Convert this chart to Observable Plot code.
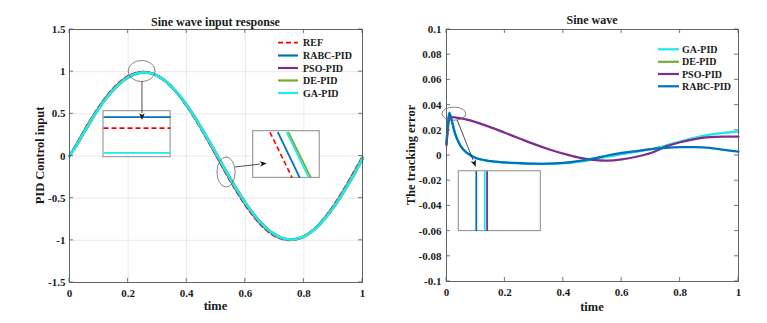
<!DOCTYPE html>
<html><head><meta charset="utf-8">
<script src="https://cdn.jsdelivr.net/npm/d3@7"></script>
<script src="https://cdn.jsdelivr.net/npm/@observablehq/plot@0.6"></script>
<style>
html,body{margin:0;padding:0;background:#fff;}
#wrap{position:relative;width:767px;height:323px;overflow:hidden;background:#fff;}
#left,#right{position:absolute;top:0;}
#left{left:0;} #right{left:380px;}
</style></head><body>
<div id="wrap"><div id="left"></div><div id="right"></div></div>
<script>
// ---------- Left chart data: PID control input (sine tracking) ----------
const timeA = [0,0.025,0.05,0.075,0.1,0.125,0.15,0.175,0.2,0.225,0.25,0.275,0.3,0.325,0.35,0.375,0.4,0.425,0.45,0.475,0.5,0.525,0.55,0.575,0.6,0.625,0.65,0.675,0.7,0.725,0.75,0.775,0.8,0.825,0.85,0.875,0.9,0.925,0.95,0.975,1];
const refA  = [0,0.156,0.309,0.454,0.588,0.707,0.809,0.891,0.951,0.988,1,0.988,0.951,0.891,0.809,0.707,0.588,0.454,0.309,0.156,0,-0.156,-0.309,-0.454,-0.588,-0.707,-0.809,-0.891,-0.951,-0.988,-1,-0.988,-0.951,-0.891,-0.809,-0.707,-0.588,-0.454,-0.309,-0.156,0];
const rabcA = [0,0.140,0.292,0.436,0.571,0.690,0.793,0.876,0.939,0.978,0.996,0.986,0.952,0.894,0.815,0.715,0.598,0.467,0.325,0.175,0.022,-0.134,-0.286,-0.430,-0.565,-0.685,-0.789,-0.873,-0.936,-0.977,-0.993,-0.985,-0.953,-0.897,-0.820,-0.722,-0.605,-0.475,-0.332,-0.183,-0.018];
const psoA  = [0,0.132,0.283,0.427,0.562,0.681,0.785,0.869,0.932,0.972,0.990,0.983,0.951,0.896,0.818,0.720,0.605,0.475,0.334,0.185,0.033,-0.122,-0.274,-0.418,-0.553,-0.674,-0.779,-0.864,-0.929,-0.971,-0.990,-0.985,-0.955,-0.901,-0.825,-0.729,-0.614,-0.486,-0.344,-0.196,-0.030];
const deA   = [0,0.132,0.283,0.427,0.562,0.681,0.785,0.869,0.932,0.972,0.990,0.983,0.951,0.896,0.818,0.720,0.605,0.475,0.334,0.185,0.033,-0.122,-0.274,-0.418,-0.553,-0.674,-0.779,-0.864,-0.929,-0.971,-0.990,-0.985,-0.955,-0.901,-0.825,-0.729,-0.614,-0.486,-0.344,-0.196,-0.030];
const gaA   = [0,0.133,0.284,0.428,0.563,0.682,0.786,0.870,0.933,0.973,0.990,0.982,0.950,0.895,0.817,0.719,0.603,0.473,0.332,0.183,0.031,-0.124,-0.276,-0.420,-0.555,-0.676,-0.780,-0.865,-0.930,-0.972,-0.990,-0.984,-0.954,-0.900,-0.824,-0.728,-0.612,-0.484,-0.342,-0.194,-0.025];
const leftSeriesNames = ["REF","RABC-PID","PSO-PID","DE-PID","GA-PID"];
const leftSeriesValues = [refA, rabcA, psoA, deA, gaA];
const xTicks = [0,0.2,0.4,0.6,0.8,1];
const yTicksA = [-1.5,-1,-0.5,0,0.5,1,1.5];

// left zoom insets (data units)
const insetBoxesA = [{x1:0.116,x2:0.345,y1:-0.014,y2:0.531},{x1:0.627,x2:0.854,y1:-0.259,y2:0.294}];
const insetLinesA = [
  {s:"RABC-PID",x1:0.116,y1:0.460,x2:0.345,y2:0.460},
  {s:"REF",x1:0.116,y1:0.330,x2:0.345,y2:0.330},
  {s:"GA-PID",x1:0.116,y1:0.038,x2:0.345,y2:0.038},
  {s:"REF",x1:0.684,y1:0.282,x2:0.760,y2:-0.259},
  {s:"RABC-PID",x1:0.711,y1:0.282,x2:0.786,y2:-0.259},
  {s:"GA-PID",x1:0.741,y1:0.282,x2:0.817,y2:-0.259},
  {s:"DE-PID",x1:0.747,y1:0.282,x2:0.824,y2:-0.259}
];
const ellipsesA = [{x:0.248,y:1.002,rx:0.046,ry:0.125},{x:0.536,y:-0.196,rx:0.031,ry:0.178}];
const arrowsA = [{x1:0.249,y1:0.883,x2:0.249,y2:0.421},{x1:0.567,y1:-0.136,x2:0.675,y2:-0.092}];

// ---------- Right chart data: tracking error ----------
const timeB = [0,0.005,0.01,0.02,0.03,0.05,0.07,0.1,0.15,0.2,0.25,0.3,0.35,0.4,0.45,0.5,0.55,0.6,0.65,0.7,0.75,0.8,0.85,0.9,0.95,1];
const gaB   = [0.009,0.024,0.033,0.026,0.017,0.007,0.002,-0.002,-0.0045,-0.0056,-0.0062,-0.0066,-0.0066,-0.006,-0.005,-0.0033,-0.001,0.001,0.003,0.005,0.0078,0.011,0.014,0.0165,0.018,0.019];
const deB   = [0.009,0.024,0.033,0.026,0.017,0.007,0.002,-0.002,-0.0045,-0.0056,-0.0062,-0.0066,-0.0066,-0.006,-0.005,-0.0033,-0.001,0.001,0.003,0.005,0.0078,0.011,0.014,0.0165,0.018,0.019];
const psoB  = [0.008,0.022,0.029,0.0305,0.0302,0.0295,0.0285,0.0265,0.0225,0.018,0.0135,0.009,0.005,0.0015,-0.0015,-0.0035,-0.004,-0.003,-0.001,0.002,0.007,0.0105,0.013,0.0145,0.015,0.015];
const rabcB = [0.010,0.025,0.034,0.026,0.017,0.007,0.002,-0.002,-0.0045,-0.0055,-0.006,-0.0065,-0.0065,-0.0058,-0.0045,-0.0025,0.0,0.002,0.0035,0.005,0.006,0.0066,0.0066,0.006,0.0045,0.003];
const rightSeriesNames = ["GA-PID","DE-PID","PSO-PID","RABC-PID"];
const rightSeriesValues = [gaB, deB, psoB, rabcB];
const rightDrawOrder = ["DE-PID","GA-PID","PSO-PID","RABC-PID"];
const yTicksB = [-0.1,-0.08,-0.06,-0.04,-0.02,0,0.02,0.04,0.06,0.08,0.1];

const insetBoxesB = [{x1:0.042,x2:0.323,y1:-0.060,y2:-0.0125}];
const insetLinesB = [
  {s:"RABC-PID",x1:0.102,y1:-0.0125,x2:0.102,y2:-0.060},
  {s:"GA-PID",x1:0.131,y1:-0.0125,x2:0.131,y2:-0.060},
  {s:"PSO-PID",x1:0.139,y1:-0.0125,x2:0.139,y2:-0.060}
];
const ellipsesB = [{x:0.027,y:0.0328,rx:0.041,ry:0.0052}];
const arrowsB = [{x1:0.038,y1:0.0278,x2:0.102,y2:-0.0093}];

// ---------- styles ----------
const FONT = "'Liberation Serif','Times New Roman',Times,serif";
const STYLE = {
  "REF":      {stroke:"#FF0000", width:1.6, dash:"5,3"},
  "RABC-PID": {stroke:"#0072BD", width:2.5},
  "PSO-PID":  {stroke:"#7E2F8E", width:2.5},
  "DE-PID":   {stroke:"#77AC30", width:2.5},
  "GA-PID":   {stroke:"#1EEAEA", width:2.5}
};
const AXIS = "#555";

function seriesMarks(names, values, time, order, curve, widthScale, thin = []) {
  return order.map(n => {
    const i = names.indexOf(n);
    const rows = time.map((t, j) => ({t, v: values[i][j]}));
    const st = STYLE[n];
    let w = st.dash ? st.width : st.width * widthScale;
    if (thin.includes(n)) w *= 0.7;
    return Plot.line(rows, {x:"t", y:"v", stroke: st.stroke, strokeWidth: w,
      strokeDasharray: st.dash || null, curve});
  });
}
function insetMarks(boxes, lines) {
  const m = [Plot.rect(boxes, {x1:"x1", x2:"x2", y1:"y1", y2:"y2", fill:"white", stroke:"#8a8a8a", strokeWidth:1})];
  for (const name of Object.keys(STYLE)) {
    const sub = lines.filter(d => d.s === name);
    if (!sub.length) continue;
    const st = STYLE[name];
    m.push(Plot.link(sub, {x1:"x1", y1:"y1", x2:"x2", y2:"y2", stroke: st.stroke,
      strokeWidth: name === "REF" ? 1.6 : 1.8, strokeDasharray: st.dash || null}));
  }
  return m;
}

function decorate(svg, cfg) {
  const xs = svg.scale("x"), ys = svg.scale("y");
  const s = d3.select(svg);
  const [xa, xb] = d3.extent(xs.range), [ya, yb] = d3.extent(ys.range);
  const g = s.append("g").attr("stroke", AXIS).attr("stroke-width", 0.8);
  for (const t of cfg.xTicks) {
    const px = xs.apply(t);
    g.append("line").attr("x1", px).attr("x2", px).attr("y1", yb).attr("y2", yb - 4);
    g.append("line").attr("x1", px).attr("x2", px).attr("y1", ya).attr("y2", ya + 4);
  }
  for (const t of cfg.yTicks) {
    const py = ys.apply(t);
    g.append("line").attr("x1", xa).attr("x2", xa + 4).attr("y1", py).attr("y2", py);
    g.append("line").attr("x1", xb).attr("x2", xb - 4).attr("y1", py).attr("y2", py);
  }
  for (const e of cfg.ellipses) {
    const cx = xs.apply(e.x), cy = ys.apply(e.y);
    s.append("ellipse").attr("cx", cx).attr("cy", cy)
      .attr("rx", Math.abs(xs.apply(e.x + e.rx) - cx)).attr("ry", Math.abs(ys.apply(e.y + e.ry) - cy))
      .attr("fill", "none").attr("stroke", "#666").attr("stroke-width", 0.8);
  }
  for (const a of cfg.arrows) {
    const x1 = xs.apply(a.x1), y1 = ys.apply(a.y1), x2 = xs.apply(a.x2), y2 = ys.apply(a.y2);
    const ang = Math.atan2(y2 - y1, x2 - x1), L = 7, W = 2.8;
    const bx = x2 - L*Math.cos(ang), by = y2 - L*Math.sin(ang);
    s.append("line").attr("x1", x1).attr("y1", y1).attr("x2", bx).attr("y2", by)
      .attr("stroke", "#222").attr("stroke-width", 0.8);
    const px = -Math.sin(ang), py = Math.cos(ang);
    s.append("path").attr("d", `M${x2},${y2}L${bx + W*px},${by + W*py}L${bx + 2*Math.cos(ang)},${by + 2*Math.sin(ang)}L${bx - W*px},${by - W*py}Z`)
      .attr("fill", "#111");
  }
  const txt = (x, y, str, size, anchor, rot) => {
    const t = s.append("text").attr("font-family", FONT).attr("font-weight", "bold")
      .attr("font-size", size).attr("fill", "#1a1a1a").attr("text-anchor", anchor).text(str);
    if (rot) t.attr("transform", `translate(${x},${y}) rotate(-90)`);
    else t.attr("x", x).attr("y", y);
    return t;
  };
  const cx = (xa + xb) / 2, cy = (ya + yb) / 2;
  txt(cx, cfg.titleY, cfg.title, 12, "middle");
  txt(cx, cfg.xLabelY, "time", 12.5, "middle");
  txt(cfg.yLabelX, cy, cfg.yLabel, 12.5, "middle", true);
  cfg.legend.names.forEach((n, i) => {
    const y = cfg.legend.rows[i], st = STYLE[n];
    s.append("line").attr("x1", cfg.legend.x1).attr("x2", cfg.legend.x2).attr("y1", y).attr("y2", y)
      .attr("stroke", st.stroke).attr("stroke-width", n === "REF" ? 1.8 : 2.2)
      .attr("stroke-dasharray", st.dash || null);
    txt(cfg.legend.tx, y + 3.5, n, 10, "start");
  });
}

const baseStyle = {fontFamily: FONT, fontSize: "11px", fontWeight: "bold", color: "#1a1a1a", background: "transparent", overflow: "visible"};

// ---------- Left plot ----------
const left = Plot.plot({
  width: 380, height: 323,
  marginLeft: 69, marginRight: 18, marginTop: 29, marginBottom: 41,
  style: baseStyle,
  x: {domain: [0, 1], ticks: xTicks, tickFormat: d => String(d), tickSize: 0, tickPadding: 7, label: null, grid: true},
  y: {domain: [-1.5, 1.5], ticks: yTicksA, tickFormat: d => String(d), tickSize: 0, tickPadding: 4, label: null, grid: true},
  marks: [
    ...seriesMarks(leftSeriesNames, leftSeriesValues, timeA, leftSeriesNames, "catmull-rom", 1),
    ...insetMarks(insetBoxesA, insetLinesA),
    Plot.frame({stroke: AXIS, strokeWidth: 0.9})
  ]
});
decorate(left, {
  xTicks, yTicks: yTicksA, ellipses: ellipsesA, arrows: arrowsA,
  title: "Sine wave input response", titleY: 25.5, xLabelY: 310,
  yLabel: "PID Control input", yLabelX: 43.5,
  legend: {names: leftSeriesNames, rows: [42.7, 55.5, 68, 80.5, 93], x1: 278, x2: 298, tx: 303}
});
document.getElementById("left").appendChild(left);

// ---------- Right plot ----------
const right = Plot.plot({
  width: 387, height: 323,
  marginLeft: 66, marginRight: 29, marginTop: 29, marginBottom: 42,
  style: baseStyle,
  x: {domain: [0, 1], ticks: xTicks, tickFormat: d => String(d), tickSize: 0, tickPadding: 7, label: null},
  y: {domain: [-0.1, 0.1], ticks: yTicksB, tickFormat: d => String(d), tickSize: 0, tickPadding: 5, label: null},
  marks: [
    ...seriesMarks(rightSeriesNames, rightSeriesValues, timeB, rightDrawOrder, "catmull-rom", 0.9, ["DE-PID"]),
    ...insetMarks(insetBoxesB, insetLinesB),
    Plot.frame({stroke: AXIS, strokeWidth: 0.9})
  ]
});
decorate(right, {
  xTicks, yTicks: yTicksB, ellipses: ellipsesB, arrows: arrowsB,
  title: "Sine wave", titleY: 24, xLabelY: 311,
  yLabel: "The tracking error", yLabelX: 35,
  legend: {names: rightSeriesNames, rows: [49.3, 61.8, 74, 86.3], x1: 278, x2: 299, tx: 302}
});
document.getElementById("right").appendChild(right);
</script>
</body></html>
